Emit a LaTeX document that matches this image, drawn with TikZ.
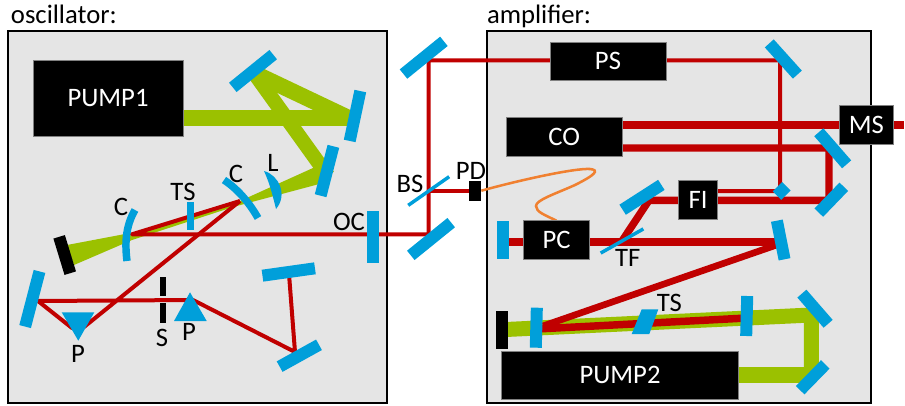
\documentclass[tikz,border=0pt]{standalone}
\usepackage{fontspec}
\setmainfont{Carlito}
\usetikzlibrary{calc}
\pgfdeclarelayer{base}
\pgfdeclarelayer{beams}
\pgfsetlayers{base,beams,main}
\definecolor{optblue}{HTML}{009FDA}
\definecolor{beamred}{HTML}{C00000}
\definecolor{pumpgreen}{HTML}{9BC100}
\definecolor{chambergray}{HTML}{E5E5E5}
\definecolor{fibre}{HTML}{F08030}
\tikzset{
	every node/.style={font=\fontsize{20}{24}\selectfont, inner sep=0pt, outer sep=0pt},
	chamber/.style n args={2}{draw=black, line width=1.5pt, fill=chambergray, minimum width=#1*.75pt, minimum height=#2*.75pt},
	mirror/.style={fill=optblue, minimum width=#1*.75pt, minimum height=9pt},
	plate/.style={fill=optblue, minimum width=#1*.75pt, minimum height=2.6pt},
	dump/.style n args={2}{fill=black, minimum width=#1*.75pt, minimum height=#2*.75pt},
	unit/.style n args={2}{fill=black, draw=gray, line width=.4pt, text=white, minimum width=#1*.75pt, minimum height=#2*.75pt},
	curved/.style={draw=optblue, line width=5.6pt},
	redthin/.style={draw=beamred, line width=3pt, line join=round},
	redthick/.style={draw=beamred, line width=5.6pt},
	greenbeam/.style={draw=pumpgreen, line width=#1*.75pt}
}
\begin{document}
\begin{tikzpicture}[x=.75pt,y=-.75pt]
\useasboundingbox (0,0) rectangle (905,406);
\begin{pgfonlayer}{base}
\node[chamber={379}{372}] (osc) at (197.5,217) {};
\node[chamber={384}{372}] (amp) at (679,217) {};
\end{pgfonlayer}
\node[anchor=base west] (osclabel) at (11,24) {oscillator:};
\node[anchor=base west] (amplabel) at (487,24) {amplifier:};

\node[unit={150}{76}] (pump1) at (108,98) {PUMP1};
\node[mirror=52,rotate=39] (mA) at (253,71) {};
\node[mirror=51,rotate=78] (mB) at (355,116) {};
\node[mirror=51,rotate=75.5] (mC) at (327,171) {};
\node[dump={38}{12},rotate=-73] (endO) at (64.7,255) {};
\node[mirror=52,rotate=90] (oc) at (373,237) {};
\node[mirror=57,rotate=75.4] (mL) at (32.3,299) {};
\node[mirror=53,rotate=8] (mT) at (288.7,272) {};
\node[mirror=45,rotate=29] (mS) at (299.3,355.7) {};
\node[fill=optblue,minimum width=5.6pt,minimum height=21pt] (tsO) at (190.5,215.7) {};
\node[dump={6}{19}] (slitA) at (162.8,286.2) {};
\node[dump={6}{20}] (slitB) at (162.8,313) {};

\node[mirror=52,rotate=39] (mOa) at (423.7,57.7) {};
\node[mirror=52,rotate=39] (mOb) at (431,239) {};
\node[plate=50,rotate=35] (bs) at (428.7,191) {};
\node[dump={12}{20}] (pd) at (475.3,190.7) {};

\node[unit={116}{38}] (ps) at (608,61) {PS};
\node[unit={116}{38.6}] (co) at (564.3,137) {CO};
\node[unit={54}{38.6}] (ms) at (866.3,125) {MS};
\node[unit={39}{38.6}] (fi) at (698.2,200) {FI};
\node[unit={65.6}{38.6}] (pc) at (556.5,240) {PC};
\node[unit={236.6}{47.3}] (pump2) at (620,375.3) {PUMP2};
\node[mirror=42,rotate=-48] (mPS) at (783.3,59) {};
\node[fill=optblue,minimum width=10pt,minimum height=9pt,rotate=45] (pick) at (781.7,191) {};
\node[mirror=42.5,rotate=-49] (mUp) at (832.7,148.3) {};
\node[mirror=36,rotate=46] (mLo) at (831.3,199.7) {};
\node[mirror=46,rotate=32.7] (mFI) at (642,197.3) {};
\node[plate=49,rotate=29.5] (tf) at (622,241) {};
\node[mirror=38.6,rotate=90] (mEnd) at (503.3,240) {};
\node[mirror=39.4,rotate=-78.8] (mRt) at (780.7,240) {};
\node[dump={12}{38}] (endA) at (501.7,329.7) {};
\node[mirror=40,rotate=88.5] (cA) at (536.3,327.7) {};
\node[mirror=40,rotate=88.5] (cB) at (746.7,316) {};
\node[mirror=40,rotate=-49] (mGa) at (815,308.7) {};
\node[mirror=36,rotate=45.7] (mGb) at (812.7,377.3) {};

\fill[optblue] (61.7,312.3) -- (94.3,312.3) -- (78.3,340.7) -- cycle;
\fill[optblue] (190,292.3) -- (174,321) -- (206.7,321) -- cycle;
\fill[optblue] (641.7,309.3) -- (658.3,309.3) -- (649.3,334) -- (631.7,334) -- cycle;
\fill[optblue] (264,171) .. controls (279,175) and (288,195) .. (276,209) .. controls (273,197) and (270,184) .. cycle;
\draw[curved] (135,210) .. controls (125,227) and (125,245) .. (127,261);
\draw[curved] (224,180) .. controls (239,190) and (250,204) .. (258,218);

\coordinate (gP) at (183,118);
\coordinate (gA) at (254,73);
\coordinate (gB) at (355,121);
\coordinate (gC) at (328,176);
\coordinate (rC1) at (132,234.3);
\coordinate (rC2) at (240,201);
\coordinate (rPa) at (84,327);
\coordinate (rPb) at (72,328);
\coordinate (rL) at (38,301);
\coordinate (rPc) at (193,300);
\coordinate (rS) at (295,352);
\coordinate (rT) at (289,274);
\coordinate (rV) at (428.5,234.3);
\coordinate (rU) at (428.5,60.5);
\coordinate (rW) at (780,60.5);
\coordinate (rX) at (780,191);
\coordinate (rBS) at (428.5,191);
\coordinate (rOut) at (904,125);
\coordinate (rLow) at (829,148);
\coordinate (rCor) at (829,200.3);
\coordinate (rFa) at (649,200.3);
\coordinate (rFb) at (622,241);
\coordinate (rRt) at (778,241.8);
\coordinate (rDg) at (778,244.5);
\coordinate (rDe) at (543,326);
\coordinate (rGa) at (537,329);
\coordinate (rGb) at (747,318);
\coordinate (gV) at (811.3,315);
\coordinate (gH) at (738,375.3);

\begin{pgfonlayer}{beams}
\fill[pumpgreen] (67,245) -- (132,232.7) -- (240,201) -- (313,168) -- (326,164) -- (323,183) -- (233,207) -- (132,240) -- (74,265) -- cycle;
\draw[greenbeam=16] (gP) -- (gP-|mB);
\draw[greenbeam=16] (gB) -- (gA);
\draw[greenbeam=14.5] (gA) -- (gC);
\draw[greenbeam=15] (endA) -- (gV) -- (gV|-mGb);
\draw[greenbeam=16] (gH) -- (gH-|mGb);

\draw[redthin] (rC2) -- (rC1) -- (rV) -- (rU) -- (rW) -- (rX) -- (rX-|fi);
\draw[redthin] (rC2) -- (rPa) -- (rPb) -- (rL) -- (rPc) -- (rS) -- (rT);
\draw[redthin] (rBS) -- (rBS-|pd);
\draw[redthick] (co.east|-rOut) -- (rOut);
\draw[redthick] (co.east|-rLow) -- (rLow) -- (rCor) -- (rFa) -- (rFb);
\draw[redthick] (mEnd|-rRt) -- (rRt);
\draw[beamred,line width=5pt] (rDg) -- (rDe);
\draw[redthick] (rGa) -- (rGb);
\draw[fibre,line width=1.9pt] (pd.east) .. controls (520,180) and (575,168) .. (590,169) .. controls (600,170) and (595,175) .. (575,185) .. controls (555,194) and (536,200) .. (536,206) .. controls (536,212) and (545,215) .. (pc.north);
\end{pgfonlayer}

\node (lC) at (121,207) {C};
\node (lTSo) at (183,192) {TS};
\node (lCb) at (236,174) {C};
\node (lL) at (273,163) {L};
\node (lOC) at (349,222) {OC};
\node (lPa) at (78,354) {P};
\node (lS) at (162,338) {S};
\node (lPb) at (189,332) {P};
\node (lBS) at (410,184) {BS};
\node (lPD) at (471,170.7) {PD};
\node (lTF) at (627.7,258.3) {TF};
\node (lTSa) at (669.3,303) {TS};
\end{tikzpicture}
\end{document}
